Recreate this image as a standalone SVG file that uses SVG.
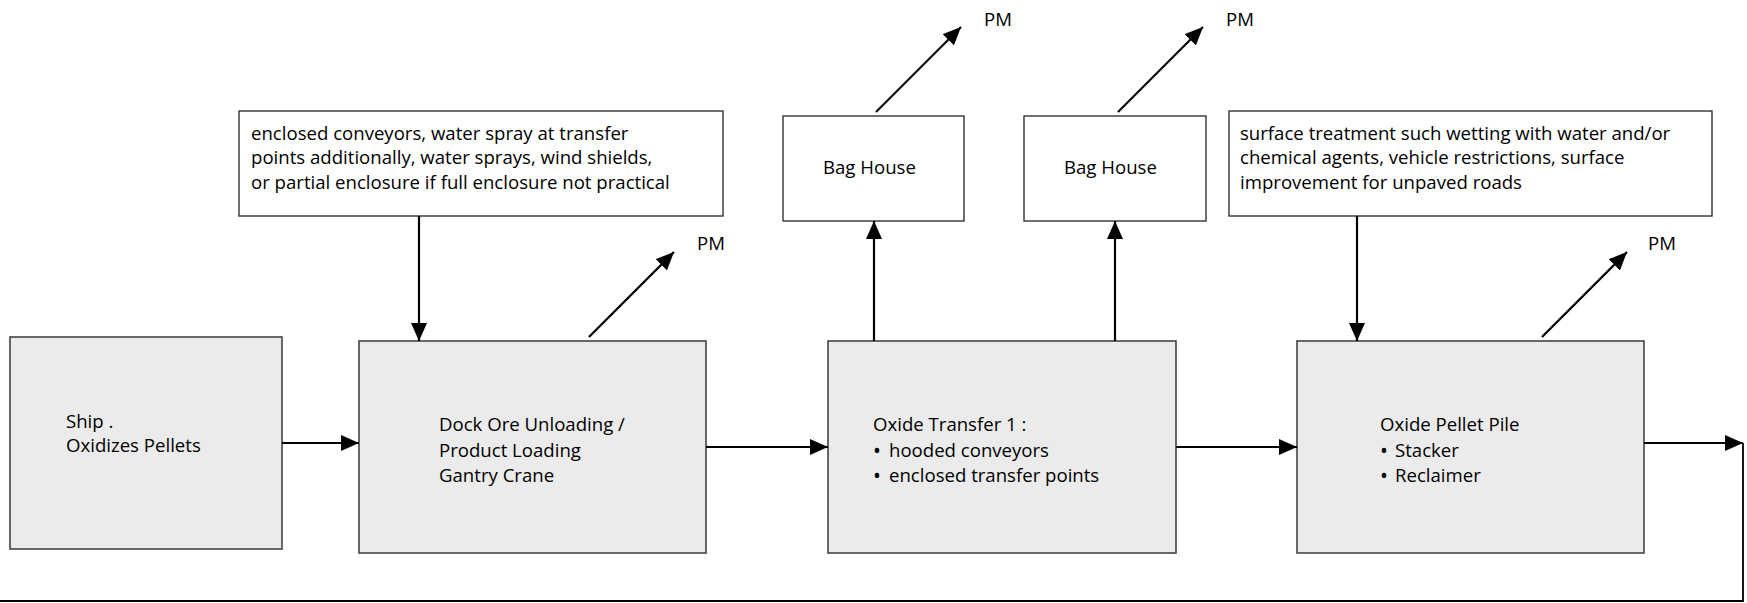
<svg xmlns="http://www.w3.org/2000/svg" width="1747" height="603" viewBox="0 0 1747 603">
<style>
.proc{fill:#EBEBEB;stroke:#444;stroke-width:1.6}
.note{fill:#FFFFFF;stroke:#333;stroke-width:1.4}
text{font-family:"Open Sans","Noto Sans",sans-serif;font-size:18.6px;fill:#000}
.bul{font-size:21px}
.ln{stroke:#000;stroke-width:2.2;fill:none}
</style>
<defs>
<marker id="ah" markerUnits="userSpaceOnUse" markerWidth="18" markerHeight="16" refX="18" refY="8" orient="auto">
<path d="M0,0 L18,8 L0,16 Z" fill="#000"/>
</marker>
</defs>
<rect width="1747" height="603" fill="#FFFFFF"/>
<g id="ship">
<rect class="proc" x="10" y="337" width="272" height="212"/>
<text x="66" y="428">Ship .</text>
<text x="66" y="452">Oxidizes Pellets</text>
</g>
<g id="dock">
<rect class="proc" x="359" y="341" width="347" height="212"/>
<text x="439" y="431">Dock Ore Unloading /</text>
<text x="439" y="457">Product Loading</text>
<text x="439" y="482">Gantry Crane</text>
</g>
<g id="transfer">
<rect class="proc" x="828" y="341" width="348" height="212"/>
<text x="873" y="431">Oxide Transfer 1 :</text>
<text class="bul" x="873" y="458">•</text><text x="889" y="457">hooded conveyors</text>
<text class="bul" x="873" y="483">•</text><text x="889" y="482">enclosed transfer points</text>
</g>
<g id="pile">
<rect class="proc" x="1297" y="341" width="347" height="212"/>
<text x="1380" y="431">Oxide Pellet Pile</text>
<text class="bul" x="1380" y="458">•</text><text x="1395" y="457">Stacker</text>
<text class="bul" x="1380" y="483">•</text><text x="1395" y="482">Reclaimer</text>
</g>
<g id="note1">
<rect class="note" x="239" y="111" width="484" height="105"/>
<text x="251" y="140">enclosed conveyors, water spray at transfer</text>
<text x="251" y="164">points additionally, water sprays, wind shields,</text>
<text x="251" y="189">or partial enclosure if full enclosure not practical</text>
</g>
<g id="note2">
<rect class="note" x="1229" y="111" width="483" height="105"/>
<text x="1240" y="140">surface treatment such wetting with water and/or</text>
<text x="1240" y="164">chemical agents, vehicle restrictions, surface</text>
<text x="1240" y="189">improvement for unpaved roads</text>
</g>
<g id="baghouse1">
<rect class="note" x="783" y="116" width="181" height="105"/>
<text x="823" y="174">Bag House</text>
</g>
<g id="baghouse2">
<rect class="note" x="1024" y="116" width="182" height="105"/>
<text x="1064" y="174">Bag House</text>
</g>
<g id="pm-labels">
<text x="697" y="250">PM</text>
<text x="984" y="26">PM</text>
<text x="1226" y="26">PM</text>
<text x="1648" y="250">PM</text>
</g>
<g id="connectors">
<line class="ln" x1="282" y1="443" x2="359" y2="443" marker-end="url(#ah)"/>
<line class="ln" x1="706" y1="447" x2="828" y2="447" marker-end="url(#ah)"/>
<line class="ln" x1="1176" y1="447" x2="1297" y2="447" marker-end="url(#ah)"/>
<line class="ln" x1="1644" y1="443" x2="1743" y2="443" marker-end="url(#ah)"/>
<polyline class="ln" points="1743,443 1743,601 0,601" style="stroke-width:1.8"/>
<line class="ln" x1="419" y1="216" x2="419" y2="341" marker-end="url(#ah)"/>
<line class="ln" x1="1357" y1="216" x2="1357" y2="341" marker-end="url(#ah)"/>
<line class="ln" x1="874" y1="341" x2="874" y2="221" marker-end="url(#ah)"/>
<line class="ln" x1="1115" y1="341" x2="1115" y2="221" marker-end="url(#ah)"/>
<line class="ln" x1="589" y1="337" x2="674" y2="252" marker-end="url(#ah)"/>
<line class="ln" x1="876" y1="112" x2="961" y2="27" marker-end="url(#ah)"/>
<line class="ln" x1="1118" y1="112" x2="1203" y2="27" marker-end="url(#ah)"/>
<line class="ln" x1="1542" y1="337" x2="1627" y2="252" marker-end="url(#ah)"/>
</g>
</svg>
